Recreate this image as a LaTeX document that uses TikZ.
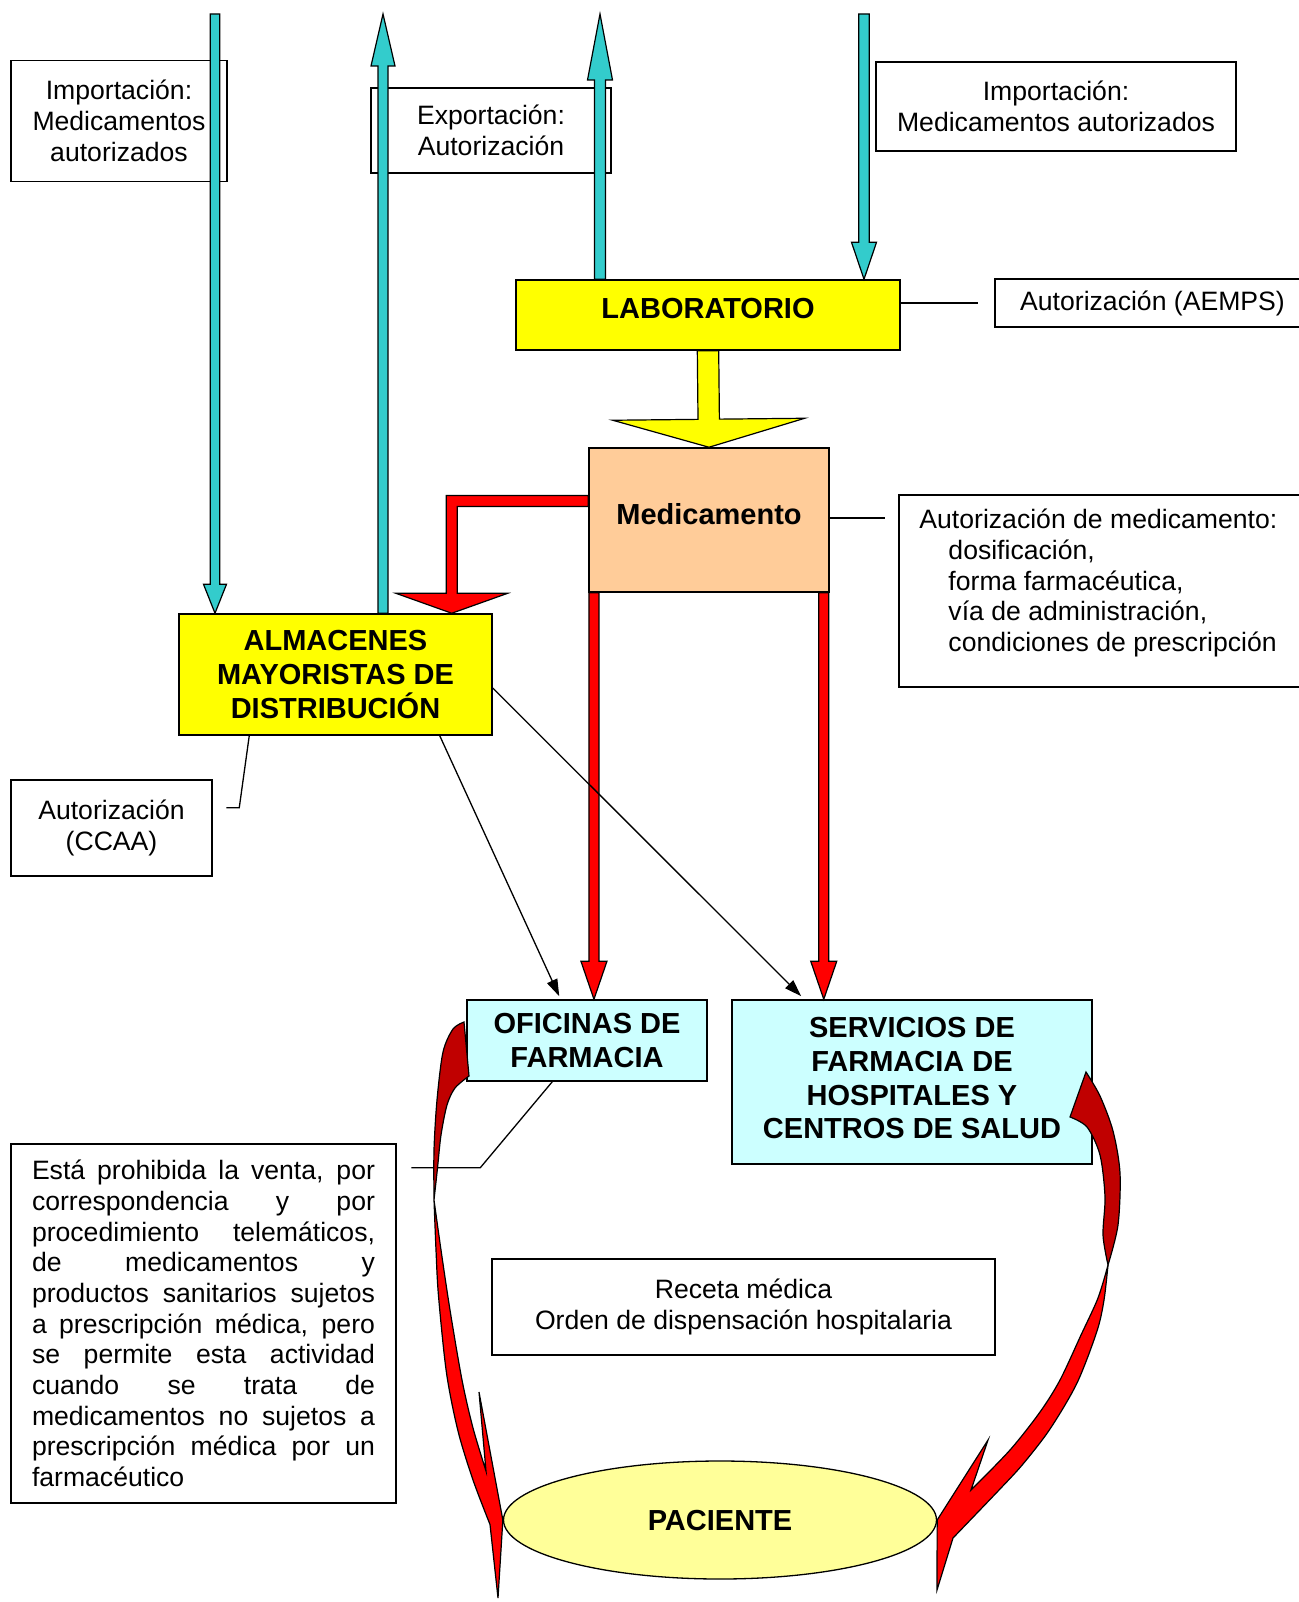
\documentclass[tikz,border=0pt]{standalone}
\usepackage{fontspec}
\setmainfont{Liberation Sans}
\usetikzlibrary{shapes.geometric,calc,arrows.meta}

\definecolor{flowcyan}{HTML}{33CCCC}
\definecolor{labyellow}{HTML}{FFFF00}
\definecolor{medpeach}{HTML}{FFCC99}
\definecolor{farmcyan}{HTML}{CCFFFF}
\definecolor{pacyellow}{HTML}{FFFF99}
\definecolor{flowred}{HTML}{FF0000}
\definecolor{backred}{HTML}{C00000}

% block arrow: [style]{from}{to}{half shaft}{half head}{head length}
\newcommand{\blockarrow}[6][]{%
  \coordinate (bah) at ($(#3)!#6!(#2)$);
  \filldraw[#1] ($(#2)!#4!90:(#3)$) -- ($(bah)!#4!-90:(#2)$) -- ($(bah)!#5!-90:(#2)$) -- (#3)
    -- ($(bah)!#5!90:(#2)$) -- ($(bah)!#4!90:(#2)$) -- ($(#2)!#4!-90:(#3)$) -- cycle;}

\begin{document}
\begin{tikzpicture}[x=1pt,y=-1pt,
    txtbox/.style={draw, line width=1.5pt, fill=white, inner sep=2pt, align=center,
      font=\fontsize{26.6pt}{30.7pt}\selectfont},
    headbox/.style={draw, line width=1.5pt, inner sep=2pt, align=center,
      font=\fontsize{29pt}{33.8pt}\selectfont\bfseries},
    cyanarrow/.style={fill=flowcyan, draw=black, line width=1.2pt},
    yellowarrow/.style={fill=labyellow, draw=black, line width=1.2pt},
    redarrow/.style={fill=flowred, draw=black, line width=1.2pt},
    backface/.style={fill=backred, draw=black, line width=1.2pt},
    link/.style={line width=1.3pt},
    thinarrow/.style={line width=1.3pt, -{Triangle[length=17pt,width=11pt]}}]
  \useasboundingbox (0,0) rectangle (1298,1602);

  % text boxes
  \node[txtbox, minimum width=216pt, minimum height=121pt] (impL) at (119,121) {Importación:\\Medicamentos\\autorizados};
  \node[txtbox, minimum width=240pt, minimum height=85pt] (expo) at (491,130.5) {Exportación:\\Autorización};
  \node[txtbox, minimum width=360pt, minimum height=89pt] (impR) at (1056,106.5) {Importación:\\Medicamentos autorizados};
  \node[txtbox, minimum width=315pt, minimum height=48pt] (aemps) at (1152.5,303) {Autorización (AEMPS)};
  \node[txtbox, minimum width=411pt, minimum height=192pt] (medauth) at (1104.5,591) {};
  \node[anchor=west, align=left, inner sep=0pt, font=\fontsize{26.6pt}{30.7pt}\selectfont] (medtxt)
    at ($(medauth.west)+(21,-8)$) {Autorización de medicamento:\\\hspace*{29pt}dosificación,\\\hspace*{29pt}forma farmacéutica,\\\hspace*{29pt}vía de administración,\\\hspace*{29pt}condiciones de prescripción};
  \node[txtbox, minimum width=201pt, minimum height=96pt] (ccaa) at (111.5,828) {Autorización\\(CCAA)};
  \node[txtbox, minimum width=385pt, minimum height=359pt, text width=343pt, align=justify] (venta) at (203.5,1323.5)
    {Está prohibida la venta, por\linebreak correspondencia y por\linebreak procedimiento telemáticos,\linebreak de medicamentos y\linebreak productos sanitarios sujetos\linebreak a prescripción médica, pero\linebreak se permite esta actividad\linebreak cuando se trata de\linebreak medicamentos no sujetos a\linebreak prescripción médica por un\linebreak farmacéutico};
  \node[txtbox, minimum width=503pt, minimum height=96pt] (receta) at (743.5,1307) {Receta médica\\Orden de dispensación hospitalaria};

  % main boxes
  \node[headbox, fill=labyellow, minimum width=384pt, minimum height=70pt, text depth=12.5pt] (lab) at (708,315) {LABORATORIO};
  \node[headbox, fill=medpeach, minimum width=240pt, minimum height=144pt, text depth=12pt] (med) at (709,520) {Medicamento};
  \node[headbox, fill=labyellow, minimum width=313pt, minimum height=121pt] (alm) at (335.5,674.5) {ALMACENES\\MAYORISTAS DE\\DISTRIBUCIÓN};
  \node[headbox, fill=farmcyan, minimum width=240pt, minimum height=81pt] (ofi) at (587,1040.5) {OFICINAS DE\\FARMACIA};
  \node[headbox, fill=farmcyan, minimum width=360pt, minimum height=164pt] (serv) at (912,1082) {SERVICIOS DE\\FARMACIA DE\\HOSPITALES Y\\CENTROS DE SALUD\\[-26pt]};
  \node[headbox, ellipse, fill=pacyellow, line width=1.3pt, inner sep=0pt, minimum width=433pt, minimum height=118pt] (pac) at (720,1520) {PACIENTE};

  % plain connectors to the notes
  \draw[link] (lab.east |- aemps.west) -- ($(aemps.west)+(-16,0)$);
  \draw[link] ($(med.east)+(0,-2)$) -- ++(55,0);
  \draw[link] ($(alm.south west)+(71,0)$) -- ++(-10,72) -- ++(-13,0);
  \draw[link] ($(ofi.south west)+(86,0)$) -- ++(-72,86) -- ++(-69,0);

  % import / export arrows
  \coordinate (inLtop) at (215,14);
  \coordinate (inLend) at (inLtop |- alm.north);
  \blockarrow[cyanarrow]{inLtop}{inLend}{4.8pt}{11.5pt}{29pt}
  \coordinate (outLtop) at (383,14);
  \coordinate (outLbeg) at (outLtop |- alm.north);
  \blockarrow[cyanarrow]{outLbeg}{outLtop}{5pt}{12pt}{52pt}
  \coordinate (outRtop) at (600,14);
  \coordinate (outRbeg) at (outRtop |- lab.north);
  \blockarrow[cyanarrow]{outRbeg}{outRtop}{5.5pt}{12.5pt}{66pt}
  \coordinate (inRtop) at (864,14);
  \coordinate (inRend) at (inRtop |- lab.north);
  \blockarrow[cyanarrow]{inRtop}{inRend}{5.3pt}{12.5pt}{37pt}

  % laboratorio -> medicamento
  \blockarrow[yellowarrow]{lab.south}{med.north}{10.7pt}{96pt}{28pt}

  % medicamento -> almacenes
  \coordinate (bendS) at ($(med.west)+(0,-19)$);
  \coordinate (bendE) at ($(alm.north east)+(-41,0)$);
  \filldraw[redarrow] ($(bendS)+(0,-5.5)$) -| ($(bendE)+(-5.5,-20)$) -- ++(-50.5,0) -- (bendE)
    -- ++(56,-20) -- ++(-50.5,0) |- ($(bendS)+(0,5.5)$) -- cycle;

  % medicamento -> farmacias
  \coordinate (medL) at ($(med.south west)+(5.7,0)$);
  \coordinate (ofiTop) at (medL |- ofi.north);
  \blockarrow[redarrow]{medL}{ofiTop}{5pt}{13pt}{38pt}
  \coordinate (medR) at ($(med.south east)+(-6,0)$);
  \coordinate (servTop) at (medR |- serv.north);
  \blockarrow[redarrow]{medR}{servTop}{5pt}{13pt}{38pt}

  % almacenes -> farmacias
  \draw[thinarrow] ($(alm.south west)+(261.5,0)$) -- ($(ofi.north west)+(93,-3)$);
  \draw[thinarrow] ($(alm.east)+(0,13.5)$) -- ($(serv.north west)+(70,-3)$);

  % curved arrows to the patient
  \filldraw[backface] plot[smooth] coordinates {(464,1022) (453,1029) (443,1052) (437,1100) (434,1150) (434,1200)}
    -- plot[smooth] coordinates {(434,1200) (437.5,1168) (441,1135) (447,1105) (455,1088) (469,1076)} -- cycle;
  \filldraw[redarrow] plot[smooth] coordinates {(434,1200) (436,1250) (438.5,1296) (446.5,1373) (458,1431) (473,1480) (490,1524.5)}
    -- (498,1598) -- (pac.west) -- (479,1392) -- (486,1471)
    -- plot[smooth] coordinates {(486,1471) (473,1428) (462,1380) (450,1310) (441,1250) (434,1200)} -- cycle;
  \filldraw[backface] plot[smooth] coordinates {(1086,1072) (1100,1096) (1113,1131) (1120,1173) (1118,1225) (1108,1265)}
    -- plot[smooth] coordinates {(1108,1265) (1103,1235) (1105,1197) (1100,1155) (1087,1127) (1070,1117)} -- cycle;
  \filldraw[redarrow] plot[smooth] coordinates {(1108,1265) (1104,1300) (1097,1331) (1077,1383) (1050,1429) (1023,1464) (1000,1489) (953,1538)}
    -- (937,1590) -- (pac.east) -- (988,1440) -- (971,1490)
    -- plot[smooth] coordinates {(971,1490) (1010,1450) (1040,1412) (1060,1380) (1081,1335) (1098,1298) (1108,1265)} -- cycle;
\end{tikzpicture}
\end{document}
